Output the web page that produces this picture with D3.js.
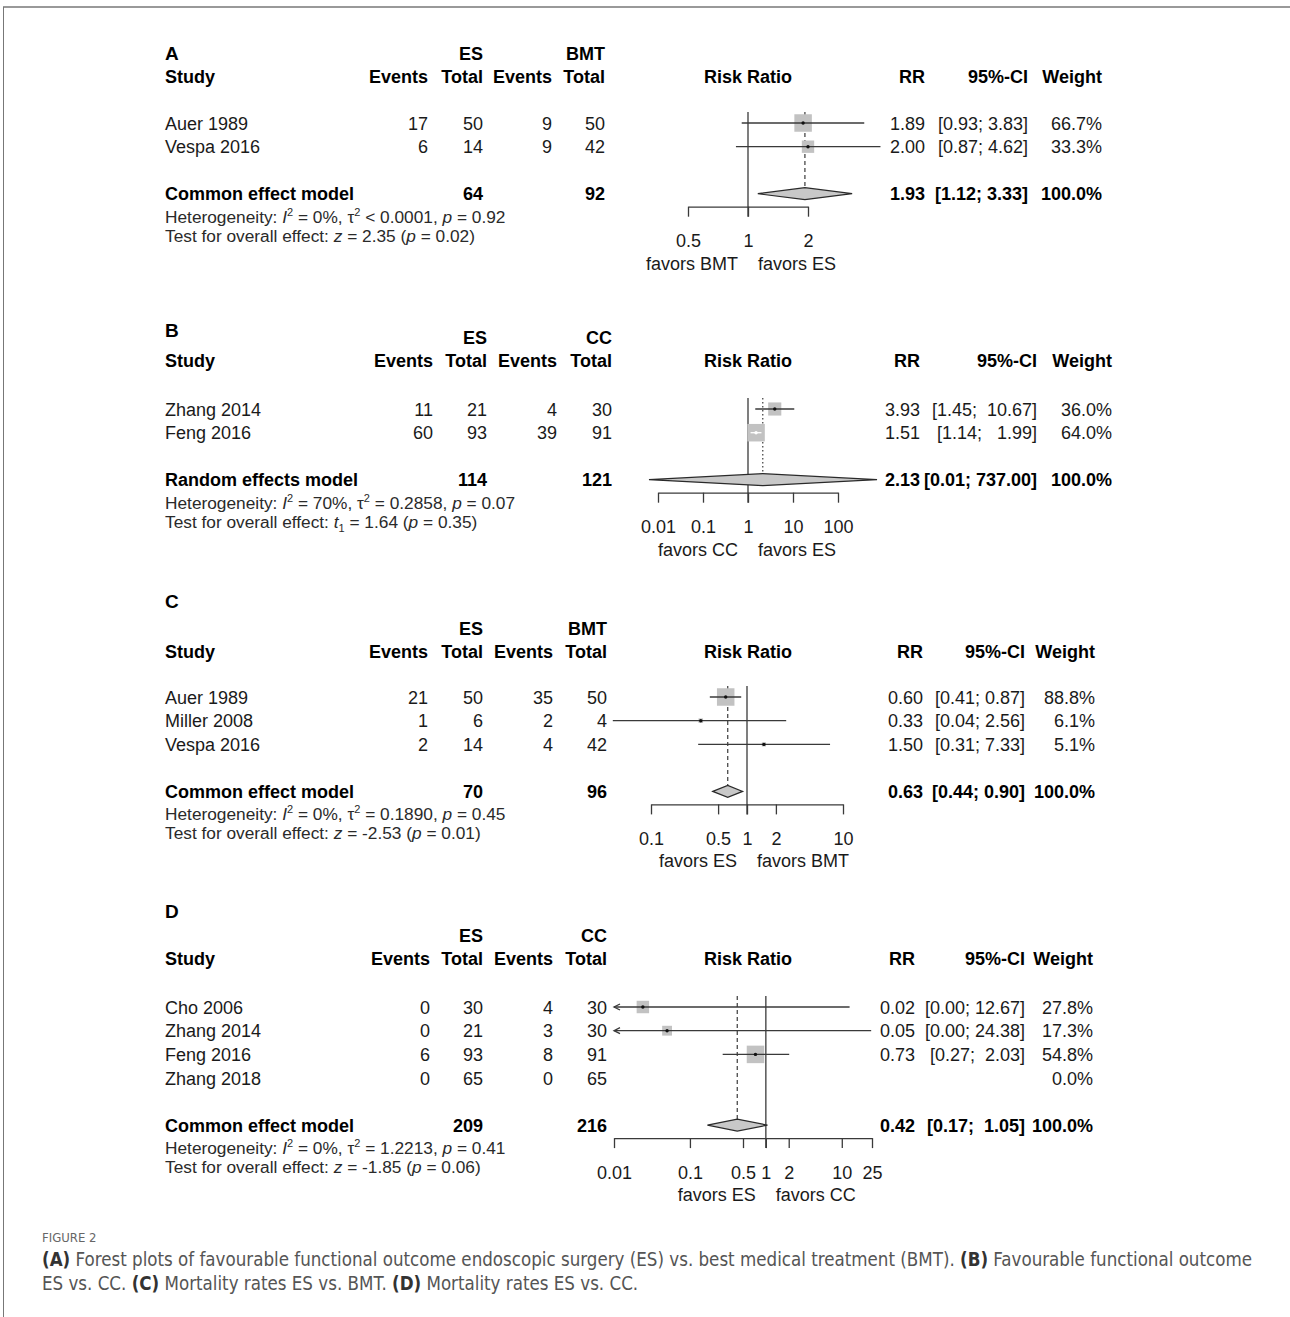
<!DOCTYPE html>
<html>
<head>
<meta charset="utf-8">
<script src="https://cdn.jsdelivr.net/npm/d3@7"></script>
<style>
  body { margin: 0; background: #fff; }
  .plot text { font-family: "Liberation Sans", Arial, Helvetica, sans-serif; }
  .cap text { font-family: "Liberation Sans Narrow", "DejaVu Sans Condensed", "Noto Sans", sans-serif; }
  .pre { white-space: pre; }
</style>
</head>
<body>
<svg id="chart" width="1290" height="1317"></svg>
<script>
// ---- panel A: favourable outcome, ES vs BMT ----
var studiesA = ['Auer 1989', 'Vespa 2016'];
var evEsA = [17, 6], totEsA = [50, 14], evCtA = [9, 9], totCtA = [50, 42];
var rrA = [1.89, 2.00], loA = [0.93, 0.87], hiA = [3.83, 4.62], wA = [66.7, 33.3];
var sumA = {label: 'Common effect model', totEs: 64, totCt: 92, rr: 1.93, lo: 1.12, hi: 3.33};

// ---- panel B: favourable outcome, ES vs CC ----
var studiesB = ['Zhang 2014', 'Feng 2016'];
var evEsB = [11, 60], totEsB = [21, 93], evCtB = [4, 39], totCtB = [30, 91];
var rrB = [3.93, 1.51], loB = [1.45, 1.14], hiB = [10.67, 1.99], wB = [36.0, 64.0];
var sumB = {label: 'Random effects model', totEs: 114, totCt: 121, rr: 2.13, lo: 0.0063, hi: 737.00};

// ---- panel C: mortality, ES vs BMT ----
var studiesC = ['Auer 1989', 'Miller 2008', 'Vespa 2016'];
var evEsC = [21, 1, 2], totEsC = [50, 6, 14], evCtC = [35, 2, 4], totCtC = [50, 4, 42];
var rrC = [0.60, 0.33, 1.50], loC = [0.41, 0.04, 0.31], hiC = [0.87, 2.56, 7.33], wC = [88.8, 6.1, 5.1];
var sumC = {label: 'Common effect model', totEs: 70, totCt: 96, rr: 0.63, lo: 0.44, hi: 0.90};

// ---- panel D: mortality, ES vs CC ----
var studiesD = ['Cho 2006', 'Zhang 2014', 'Feng 2016', 'Zhang 2018'];
var evEsD = [0, 0, 6, 0], totEsD = [30, 21, 93, 65], evCtD = [4, 3, 8, 0], totCtD = [30, 30, 91, 65];
var rrD = [0.024, 0.05, 0.73, null], loD = [0, 0, 0.27, null], hiD = [12.67, 24.38, 2.03, null], wD = [27.8, 17.3, 54.8, 0.0];
var sumD = {label: 'Common effect model', totEs: 209, totCt: 216, rr: 0.42, lo: 0.17, hi: 1.05};

// axis ticks and labels
var ticksA = [0.5, 1, 2], ticksB = [0.01, 0.1, 1, 10, 100];
var ticksC = [0.1, 0.5, 1, 2, 10], ticksD = [0.01, 0.1, 0.5, 1, 2, 10, 25];
var letters = ['A', 'B', 'C', 'D'];
var controls = ['BMT', 'CC', 'BMT', 'CC'];
var favLeft = ['favors BMT', 'favors CC', 'favors ES', 'favors ES'];
var favRight = ['favors ES', 'favors ES', 'favors BMT', 'favors CC'];

// heterogeneity / overall effect
var hetI2 = ['0%', '70%', '0%', '0%'];
var hetTauOp = ['<', '=', '=', '='];
var hetTau = ['0.0001', '0.2858', '0.1890', '1.2213'];
var hetP = ['0.92', '0.07', '0.45', '0.41'];
var testStat = ['z', 't', 'z', 'z'], testSub = ['', '1', '', ''];
var testVal = ['2.35', '1.64', '-2.53', '-1.85'];
var testP = ['0.02', '0.35', '0.01', '0.06'];

// layout per panel (positions only)
var layout = [
  {letterY: 60, esY: 60, row1: 123, cols: [428, 483, 552, 605], right: [925, 1028, 1102],
   range: [688, 808], xlim: [0.1, 6], sumLine: '4,3'},
  {letterY: 337, esY: 344, row1: 409, cols: [433, 487, 557, 612], right: [920, 1037, 1112],
   range: [658, 838], xlim: [0.005, 1000], sumLine: '1.5,2.5'},
  {letterY: 608, esY: 635, row1: 697, cols: [428, 483, 553, 607], right: [923, 1025, 1095],
   range: [651, 843], xlim: [0.03, 12], sumLine: '4,3'},
  {letterY: 918, esY: 942, row1: 1007, cols: [430, 483, 553, 607], right: [915, 1025, 1093],
   range: [614, 872], xlim: [0.01, 25], sumLine: '4,3'}
];
var headCenter = 748;

var panels = [
  {studies: studiesA, evEs: evEsA, totEs: totEsA, evCt: evCtA, totCt: totCtA, rr: rrA, lo: loA, hi: hiA, w: wA, sum: sumA, ticks: ticksA},
  {studies: studiesB, evEs: evEsB, totEs: totEsB, evCt: evCtB, totCt: totCtB, rr: rrB, lo: loB, hi: hiB, w: wB, sum: sumB, ticks: ticksB},
  {studies: studiesC, evEs: evEsC, totEs: totEsC, evCt: evCtC, totCt: totCtC, rr: rrC, lo: loC, hi: hiC, w: wC, sum: sumC, ticks: ticksC},
  {studies: studiesD, evEs: evEsD, totEs: totEsD, evCt: evCtD, totCt: totCtD, rr: rrD, lo: loD, hi: hiD, w: wD, sum: sumD, ticks: ticksD}
];

var svg = d3.select('#chart');
var plot = svg.append('g').attr('class', 'plot');
var FS = 18, ROW = 23.7, MAXBOX = 17.5;
var INK = '#1a1a1a', LINE = '#3a3a3a', BOX = '#c2c2c2';

// frame
svg.append('line').attr('x1', 3).attr('x2', 1290).attr('y1', 7).attr('y2', 7)
  .attr('stroke', '#777').attr('stroke-width', 1.5);
svg.append('line').attr('x1', 3.5).attr('x2', 3.5).attr('y1', 7).attr('y2', 1317)
  .attr('stroke', '#777').attr('stroke-width', 1);

function txt(g, x, y, s, anchor, bold) {
  return g.append('text').attr('x', x).attr('y', y).text(s)
    .attr('text-anchor', anchor || 'start')
    .attr('font-size', FS)
    .attr('font-weight', bold ? 'bold' : 'normal')
    .attr('fill', bold ? '#000' : INK);
}

function pad(s, n) { while (s.length < n) s = ' ' + s; return s; }

panels.forEach(function(p, i) {
  var L = layout[i];
  var g = plot.append('g');
  var x = d3.scaleLog().domain([p.ticks[0], p.ticks[p.ticks.length - 1]]).range(L.range);
  var n = p.studies.length;
  var rowY = function(k) { return L.row1 + k * ROW; };
  var sumY = rowY(n - 1) + 47;
  var axisY = sumY + 13;
  var studyY = L.esY + 23;
  var top = L.row1 - 11;
  var bl = 6.5;

  // headers
  txt(g, 165, L.letterY, letters[i], 'start', true).attr('font-size', 19);
  txt(g, L.cols[1], L.esY, 'ES', 'end', true);
  txt(g, L.cols[3], L.esY, controls[i], 'end', true);
  txt(g, 165, studyY, 'Study', 'start', true);
  txt(g, L.cols[0], studyY, 'Events', 'end', true);
  txt(g, L.cols[1], studyY, 'Total', 'end', true);
  txt(g, L.cols[2], studyY, 'Events', 'end', true);
  txt(g, L.cols[3], studyY, 'Total', 'end', true);
  txt(g, headCenter, studyY, 'Risk Ratio', 'middle', true);
  txt(g, L.right[0], studyY, 'RR', 'end', true);
  txt(g, L.right[1], studyY, '95%-CI', 'end', true);
  txt(g, L.right[2], studyY, 'Weight', 'end', true);

  // CI strings padded like R does
  var los = p.lo.concat([p.sum.lo]).map(function(v) { return v === null ? '' : v.toFixed(2); });
  var his = p.hi.concat([p.sum.hi]).map(function(v) { return v === null ? '' : v.toFixed(2); });
  var nl = d3.max(los, function(s) { return s.length; });
  var nh = d3.max(his, function(s) { return s.length; });
  var ciStr = function(k) {
    return los[k] === '' ? '' : '[' + pad(los[k], nl) + '; ' + pad(his[k], nh) + ']';
  };

  // reference line at 1 and summary line
  g.append('line').attr('x1', x(1)).attr('x2', x(1)).attr('y1', top).attr('y2', axisY + 10)
    .attr('stroke', LINE).attr('stroke-width', 1.3);
  g.append('line').attr('x1', x(p.sum.rr)).attr('x2', x(p.sum.rr)).attr('y1', top).attr('y2', sumY - 6)
    .attr('stroke', LINE).attr('stroke-width', 1.2).attr('stroke-dasharray', L.sumLine);

  var maxW = d3.max(p.w);
  p.studies.forEach(function(name, k) {
    var y = rowY(k);
    txt(g, 165, y + bl, name);
    txt(g, L.cols[0], y + bl, p.evEs[k], 'end');
    txt(g, L.cols[1], y + bl, p.totEs[k], 'end');
    txt(g, L.cols[2], y + bl, p.evCt[k], 'end');
    txt(g, L.cols[3], y + bl, p.totCt[k], 'end');
    txt(g, L.right[2], y + bl, p.w[k].toFixed(1) + '%', 'end');
    if (p.rr[k] === null) return;
    txt(g, L.right[0], y + bl, p.rr[k].toFixed(2), 'end');
    txt(g, L.right[1], y + bl, ciStr(k), 'end').attr('class', 'pre');

    var cx = x(p.rr[k]);
    var side = MAXBOX * Math.sqrt(p.w[k] / maxW);
    g.append('rect').attr('x', cx - side / 2).attr('y', y - side / 2)
      .attr('width', side).attr('height', side).attr('fill', BOX);
    var clipLo = p.lo[k] < L.xlim[0];
    var x0 = x(Math.max(p.lo[k], L.xlim[0]));
    var x1 = x(Math.min(p.hi[k], L.xlim[1]));
    var inside = x0 >= cx - side / 2 && x1 <= cx + side / 2;
    var col = inside ? '#fff' : LINE;
    g.append('line').attr('x1', x0).attr('x2', x1).attr('y1', y).attr('y2', y)
      .attr('stroke', col).attr('stroke-width', 1.3);
    if (clipLo) {
      g.append('path').attr('d', 'M' + (x0 + 6) + ',' + (y - 3) + 'L' + x0 + ',' + y + 'L' + (x0 + 6) + ',' + (y + 3))
        .attr('fill', 'none').attr('stroke', LINE).attr('stroke-width', 1.3);
    }
    g.append('circle').attr('cx', cx).attr('cy', y).attr('r', 1.7).attr('fill', inside ? '#fff' : '#111');
  });

  // summary row
  var s = p.sum;
  txt(g, 165, sumY + bl, s.label, 'start', true);
  txt(g, L.cols[1], sumY + bl, s.totEs, 'end', true);
  txt(g, L.cols[3], sumY + bl, s.totCt, 'end', true);
  txt(g, L.right[0], sumY + bl, s.rr.toFixed(2), 'end', true);
  txt(g, L.right[1], sumY + bl, ciStr(n), 'end', true).attr('class', 'pre');
  txt(g, L.right[2], sumY + bl, '100.0%', 'end', true);
  var dh = 6;
  g.append('path')
    .attr('d', 'M' + x(s.lo) + ',' + sumY + 'L' + x(s.rr) + ',' + (sumY - dh) +
      'L' + x(s.hi) + ',' + sumY + 'L' + x(s.rr) + ',' + (sumY + dh) + 'Z')
    .attr('fill', '#c8c8c8').attr('stroke', '#2a2a2a').attr('stroke-width', 1.2);

  // axis
  var ax = g.append('g').attr('transform', 'translate(0,' + axisY + ')')
    .call(d3.axisBottom(x).tickValues(p.ticks).tickFormat(function(d) { return String(d); })
      .tickSize(10).tickSizeOuter(0).tickPadding(18));
  ax.select('.domain').attr('stroke', LINE).attr('stroke-width', 1.3);
  ax.selectAll('.tick line').attr('stroke', LINE).attr('stroke-width', 1.3);
  ax.selectAll('.tick text').attr('font-size', FS).attr('fill', INK);
  txt(g, x(1) - 10, axisY + 63, favLeft[i], 'end');
  txt(g, x(1) + 10, axisY + 63, favRight[i], 'start');

  // heterogeneity and test lines
  var hs = 17.3;
  var h = g.append('text').attr('x', 165).attr('y', sumY + 29).attr('font-size', hs).attr('fill', '#2a2a2a');
  h.append('tspan').text('Heterogeneity: ');
  h.append('tspan').attr('font-style', 'italic').text('I');
  h.append('tspan').attr('font-size', 11).attr('dy', -7).text('2');
  h.append('tspan').attr('dy', 7).text(' = ' + hetI2[i] + ', \u03c4');
  h.append('tspan').attr('font-size', 11).attr('dy', -7).text('2');
  h.append('tspan').attr('dy', 7).text(' ' + hetTauOp[i] + ' ' + hetTau[i] + ', ');
  h.append('tspan').attr('font-style', 'italic').text('p');
  h.append('tspan').text(' = ' + hetP[i]);

  var t = g.append('text').attr('x', 165).attr('y', sumY + 48).attr('font-size', hs).attr('fill', '#2a2a2a');
  t.append('tspan').text('Test for overall effect: ');
  t.append('tspan').attr('font-style', 'italic').text(testStat[i]);
  if (testSub[i]) {
    t.append('tspan').attr('font-size', 11).attr('dy', 4).text(testSub[i]);
    t.append('tspan').attr('dy', -4).text(' = ' + testVal[i] + ' (');
  } else {
    t.append('tspan').text(' = ' + testVal[i] + ' (');
  }
  t.append('tspan').attr('font-style', 'italic').text('p');
  t.append('tspan').text(' = ' + testP[i] + ')');
});

// caption
var cap = svg.append('g').attr('class', 'cap');
cap.append('text').attr('x', 42).attr('y', 1242).attr('font-size', 13).attr('fill', '#666').text('FIGURE 2');
var capLines = [
  [['(A)', 1], [' Forest plots of favourable functional outcome endoscopic surgery (ES) vs. best medical treatment (BMT). ', 0], ['(B)', 1], [' Favourable functional outcome', 0]],
  [['ES vs. CC. ', 0], ['(C)', 1], [' Mortality rates ES vs. BMT. ', 0], ['(D)', 1], [' Mortality rates ES vs. CC.', 0]]
];
var capNodes = capLines.map(function(parts, j) {
  var te = cap.append('text').attr('x', 42).attr('y', 1266 + j * 24).attr('font-size', 16)
    .attr('fill', '#555').attr('class', 'pre');
  parts.forEach(function(pt) {
    te.append('tspan').attr('font-weight', pt[1] ? 'bold' : 'normal').attr('fill', pt[1] ? '#333' : '#555').text(pt[0]);
  });
  return te;
});
var len = capNodes[0].node().getComputedTextLength();
var fs = 16 * 1211 / len;
capNodes.forEach(function(te) { te.attr('font-size', fs); });
</script>
</body>
</html>
